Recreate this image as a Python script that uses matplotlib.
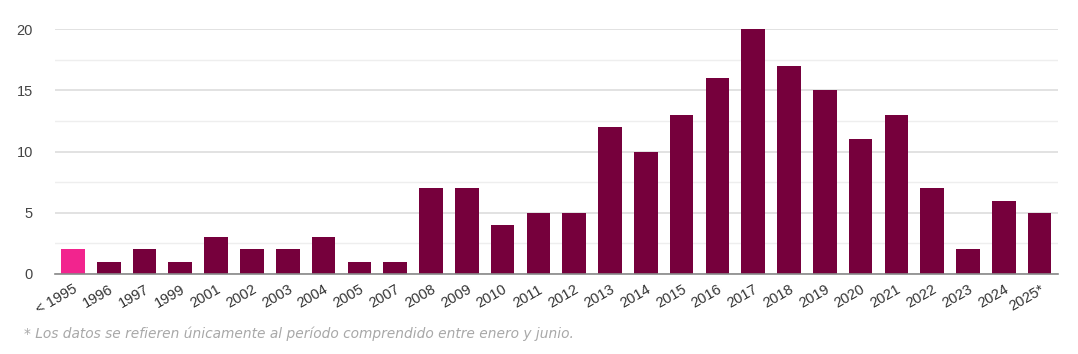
import matplotlib
matplotlib.use("Agg")
import matplotlib.pyplot as plt
import numpy as np

categories = ["< 1995", "1996", "1997", "1999", "2001", "2002", "2003", "2004", "2005", "2007",
              "2008", "2009", "2010", "2011", "2012", "2013", "2014", "2015", "2016", "2017",
              "2018", "2019", "2020", "2021", "2022", "2023", "2024", "2025*"]
values = [2, 1, 2, 1, 3, 2, 2, 3, 1, 1, 7, 7, 4, 5, 5, 12, 10, 13, 16, 20, 17, 15, 11, 13, 7, 2, 6, 5]
highlight_color = "#F2248E"
main_color = "#76003C"
footnote = "* Los datos se refieren únicamente al período comprendido entre enero y junio."

fig = plt.figure(figsize=(10.78, 3.54), dpi=100)
ax = fig.add_axes([0.051, 0.226, 0.930, 0.692])

x = np.arange(len(categories))
colors = [highlight_color] + [main_color] * (len(categories) - 1)
ax.bar(x, values, width=0.66, color=colors, zorder=3, clip_on=False)

ax.set_xlim(-0.5, len(categories) - 0.5)
ax.set_ylim(0, 20)
ax.set_yticks([0, 5, 10, 15, 20])
ax.set_yticks([2.5, 7.5, 12.5, 17.5], minor=True)
ax.grid(axis="y", which="major", color="#DDDDDD", linewidth=1.2, zorder=0)
ax.grid(axis="y", which="minor", color="#EEEEEE", linewidth=1.0, zorder=0)
ax.tick_params(axis="y", which="both", length=0, labelsize=10.5, labelcolor="#444444", pad=16)
ax.set_xticks(x)
ax.set_xticklabels(categories, rotation=30, ha="right", rotation_mode="anchor",
                   fontsize=10.5, color="#333333", fontfamily="Liberation Sans")
for lbl in ax.get_yticklabels():
    lbl.set_fontfamily("Liberation Sans")
ax.tick_params(axis="x", length=0, pad=6)
for s in ["top", "right", "left"]:
    ax.spines[s].set_visible(False)
ax.spines["bottom"].set_color("#888888")
ax.spines["bottom"].set_linewidth(1.2)
ax.spines["bottom"].set_zorder(4)

fig.text(0.022, 0.058, footnote, fontsize=9.9, style="italic", color="#A8A8A8",
         fontfamily="DejaVu Sans", va="center")

fig.savefig("out.png", dpi=100)
